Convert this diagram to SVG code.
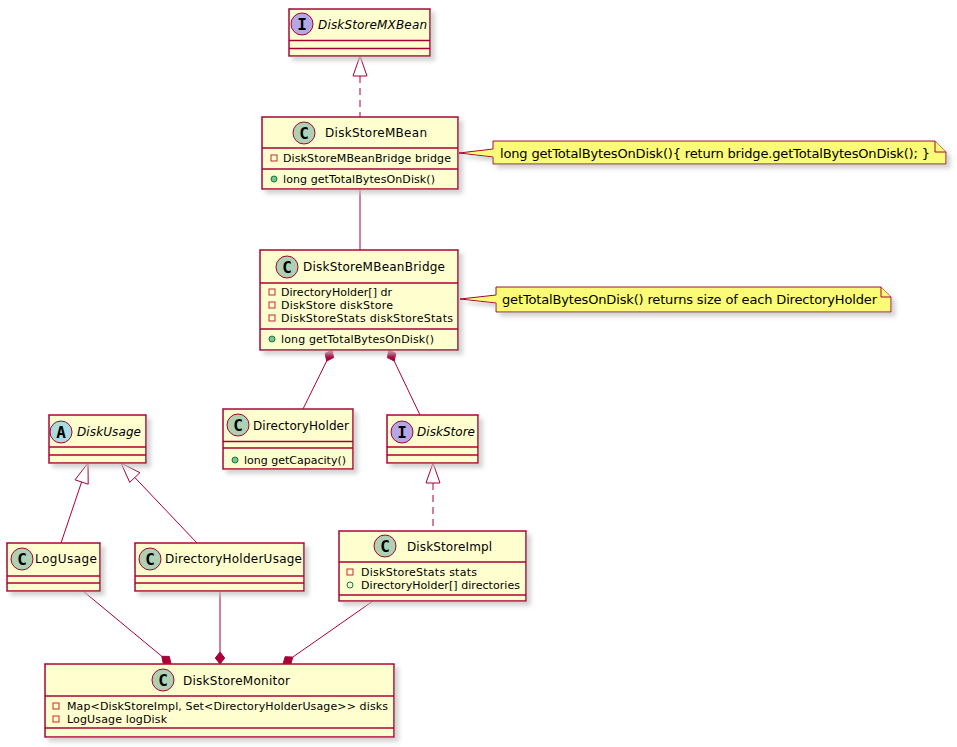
<svg xmlns="http://www.w3.org/2000/svg" width="957" height="747" viewBox="0 0 957 747">
<defs>
<filter id="sh" x="-10%" y="-20%" width="130%" height="160%">
<feGaussianBlur in="SourceAlpha" stdDeviation="2" result="b"/>
<feOffset in="b" dx="4" dy="4" result="o"/>
<feColorMatrix in="o" type="matrix" values="0 0 0 0 0.55  0 0 0 0 0.55  0 0 0 0 0.55  0 0 0 0.75 0" result="c"/>
<feMerge><feMergeNode in="c"/><feMergeNode in="SourceGraphic"/></feMerge>
</filter>
<style>
.box{fill:#FEFECE;stroke:#A80036;stroke-width:1.5;filter:url(#sh)}
.sep{stroke:#A80036;stroke-width:1.5}
.name{font-family:"DejaVu Sans",sans-serif;font-size:12px;fill:#000}
.it{font-style:italic}
.mem{font-family:"DejaVu Sans",sans-serif;font-size:11px;fill:#000}
.letter{font-family:"DejaVu Sans Mono","DejaVu Sans",monospace;font-size:16px;font-weight:bold;fill:#000;text-anchor:middle}
.cc{fill:#ADD1B2;stroke:#A80036;stroke-width:1}
.ci{fill:#B4A7E5;stroke:#A80036;stroke-width:1}
.ca{fill:#A9DCDF;stroke:#A80036;stroke-width:1}
.priv{fill:none;stroke:#C82930;stroke-width:1}
.pubm{fill:#84BE84;stroke:#038048;stroke-width:1}
.pubf{fill:none;stroke:#038048;stroke-width:1}
.note{fill:#FBFB77;stroke:#A80036;stroke-width:1;filter:url(#sh)}
.fold{fill:#FBFB77;stroke:#A80036;stroke-width:1}
.ntext{font-family:"DejaVu Sans",sans-serif;font-size:13px;fill:#000}
.ln{fill:none;stroke:#A80036;stroke-width:1}
.dash{stroke-dasharray:7,5}
.tri{fill:none;stroke:#A80036;stroke-width:1}
.dia{fill:#A80036;stroke:#A80036;stroke-width:1}
</style>
</defs>
<rect width="957" height="747" fill="#FFFFFF"/>

<g id="connectors">
<line class="ln dash" x1="360" y1="76" x2="360" y2="117"/>
<polygon class="tri" points="360,56 367,76 353,76"/>
<line class="ln" x1="360" y1="189" x2="360" y2="250"/>
<polygon class="dia" points="332,350 333.6,357.6 326.7,361 325.1,353.4"/>
<line class="ln" x1="326.7" y1="361" x2="303" y2="409"/>
<polygon class="dia" points="389,350 395.8,353.4 394.2,361 387.3,357.6"/>
<line class="ln" x1="394.2" y1="361" x2="420" y2="415"/>
<line class="ln dash" x1="433" y1="483" x2="433" y2="531"/>
<polygon class="tri" points="433,463 440,483 426,483"/>
<line class="ln" x1="81.6" y1="482" x2="61" y2="543"/>
<polygon class="tri" points="88,463 88.2,484.2 75,479.8"/>
<line class="ln" x1="134.8" y1="477.5" x2="197" y2="543"/>
<polygon class="tri" points="121,463 129.7,482.3 139.9,472.7"/>
<line class="ln" x1="83" y1="591" x2="161.8" y2="656.3"/>
<polygon class="dia" points="171,664 169.3,656.4 161.8,656.3 163.3,663.8"/>
<line class="ln" x1="220" y1="591" x2="220" y2="652"/>
<polygon class="dia" points="220,664 224.7,658 220,652 215.3,658"/>
<line class="ln" x1="373" y1="601" x2="292.8" y2="657.1"/>
<polygon class="dia" points="283,664 290.7,664.4 292.8,657.1 285.2,656.7"/>
</g>

<g id="DiskStoreMXBean">
<rect class="box" x="289" y="9" width="141" height="47"/>
<circle class="ci" cx="302" cy="24" r="11"/>
<text class="letter" x="302" y="29.5">I</text>
<text class="name it" x="318" y="29" textLength="109" lengthAdjust="spacing">DiskStoreMXBean</text>
<line class="sep" x1="289" y1="40.5" x2="430" y2="40.5"/>
<line class="sep" x1="289" y1="48.5" x2="430" y2="48.5"/>
</g>

<g id="DiskStoreMBean">
<rect class="box" x="262" y="117" width="196" height="72"/>
<circle class="cc" cx="304" cy="133" r="11"/>
<text class="letter" x="304" y="138.5">C</text>
<text class="name" x="325" y="137" textLength="102" lengthAdjust="spacing">DiskStoreMBean</text>
<line class="sep" x1="262" y1="148" x2="458" y2="148"/>
<rect class="priv" x="271" y="155" width="6" height="6"/>
<text class="mem" x="283" y="162" textLength="168" lengthAdjust="spacing">DiskStoreMBeanBridge bridge</text>
<line class="sep" x1="262" y1="169" x2="458" y2="169"/>
<circle class="pubm" cx="274" cy="179" r="3"/>
<text class="mem" x="283" y="183" textLength="152" lengthAdjust="spacing">long getTotalBytesOnDisk()</text>
</g>

<g id="note1">
<path class="note" d="M493,141 L935,141 L946,152 L946,164 L493,164 L493,157 L459,153 L493,149 Z"/>
<path class="fold" d="M935,141 L935,152 L946,152"/>
<text class="ntext" x="500" y="158" textLength="430" lengthAdjust="spacing">long getTotalBytesOnDisk(){ return bridge.getTotalBytesOnDisk(); }</text>
</g>

<g id="DiskStoreMBeanBridge">
<rect class="box" x="260" y="250" width="198" height="100"/>
<circle class="cc" cx="287" cy="267" r="11"/>
<text class="letter" x="287" y="272.5">C</text>
<text class="name" x="303" y="271" textLength="142" lengthAdjust="spacing">DiskStoreMBeanBridge</text>
<line class="sep" x1="260" y1="283" x2="458" y2="283"/>
<rect class="priv" x="269" y="289" width="6" height="6"/>
<text class="mem" x="281" y="296" textLength="111" lengthAdjust="spacing">DirectoryHolder[] dr</text>
<rect class="priv" x="269" y="302" width="6" height="6"/>
<text class="mem" x="281" y="309" textLength="112" lengthAdjust="spacing">DiskStore diskStore</text>
<rect class="priv" x="269" y="315" width="6" height="6"/>
<text class="mem" x="281" y="322" textLength="172" lengthAdjust="spacing">DiskStoreStats diskStoreStats</text>
<line class="sep" x1="260" y1="329" x2="458" y2="329"/>
<circle class="pubm" cx="272" cy="339" r="3"/>
<text class="mem" x="281" y="343" textLength="153" lengthAdjust="spacing">long getTotalBytesOnDisk()</text>
</g>

<g id="note2">
<path class="note" d="M496,287 L881,287 L891,297 L891,312 L496,312 L496,303 L460,299 L496,295 Z"/>
<path class="fold" d="M881,287 L881,297 L891,297"/>
<text class="ntext" x="502" y="304" textLength="375" lengthAdjust="spacing">getTotalBytesOnDisk() returns size of each DirectoryHolder</text>
</g>

<g id="DiskUsage">
<rect class="box" x="49" y="415" width="97" height="48"/>
<circle class="ca" cx="61" cy="432" r="11"/>
<text class="letter" x="61" y="437.5">A</text>
<text class="name it" x="77" y="436" textLength="64" lengthAdjust="spacing">DiskUsage</text>
<line class="sep" x1="49" y1="447" x2="146" y2="447"/>
<line class="sep" x1="49" y1="455" x2="146" y2="455"/>
</g>

<g id="DirectoryHolder">
<rect class="box" x="223" y="409" width="130" height="60"/>
<circle class="cc" cx="238" cy="425" r="11"/>
<text class="letter" x="238" y="430.5">C</text>
<text class="name" x="253" y="430" textLength="96" lengthAdjust="spacing">DirectoryHolder</text>
<line class="sep" x1="223" y1="441.5" x2="353" y2="441.5"/>
<line class="sep" x1="223" y1="448" x2="353" y2="448"/>
<circle class="pubm" cx="235" cy="460" r="3"/>
<text class="mem" x="244" y="464" textLength="102" lengthAdjust="spacing">long getCapacity()</text>
</g>

<g id="DiskStore">
<rect class="box" x="387" y="415" width="91" height="48"/>
<circle class="ci" cx="402" cy="432" r="11"/>
<text class="letter" x="402" y="437.5">I</text>
<text class="name it" x="417" y="436" textLength="58" lengthAdjust="spacing">DiskStore</text>
<line class="sep" x1="387" y1="447" x2="478" y2="447"/>
<line class="sep" x1="387" y1="455" x2="478" y2="455"/>
</g>

<g id="LogUsage">
<rect class="box" x="7" y="543" width="93" height="48"/>
<circle class="cc" cx="22" cy="559" r="11"/>
<text class="letter" x="22" y="564.5">C</text>
<text class="name" x="35" y="563" textLength="62" lengthAdjust="spacing">LogUsage</text>
<line class="sep" x1="7" y1="576" x2="100" y2="576"/>
<line class="sep" x1="7" y1="583" x2="100" y2="583"/>
</g>

<g id="DirectoryHolderUsage">
<rect class="box" x="135" y="543" width="169" height="48"/>
<circle class="cc" cx="150" cy="559" r="11"/>
<text class="letter" x="150" y="564.5">C</text>
<text class="name" x="165" y="563" textLength="137" lengthAdjust="spacing">DirectoryHolderUsage</text>
<line class="sep" x1="135" y1="576" x2="304" y2="576"/>
<line class="sep" x1="135" y1="583" x2="304" y2="583"/>
</g>

<g id="DiskStoreImpl">
<rect class="box" x="339" y="531" width="187" height="70"/>
<circle class="cc" cx="385" cy="546" r="11"/>
<text class="letter" x="385" y="551.5">C</text>
<text class="name" x="407" y="551" textLength="85" lengthAdjust="spacing">DiskStoreImpl</text>
<line class="sep" x1="339" y1="562" x2="526" y2="562"/>
<rect class="priv" x="347" y="569" width="6" height="6"/>
<text class="mem" x="361" y="576" textLength="116" lengthAdjust="spacing">DiskStoreStats stats</text>
<circle class="pubf" cx="350" cy="585" r="3"/>
<text class="mem" x="361" y="589" textLength="159" lengthAdjust="spacing">DirectoryHolder[] directories</text>
<line class="sep" x1="339" y1="595" x2="526" y2="595"/>
</g>

<g id="DiskStoreMonitor">
<rect class="box" x="45" y="664" width="349" height="73"/>
<circle class="cc" cx="163" cy="680" r="11"/>
<text class="letter" x="163" y="685.5">C</text>
<text class="name" x="183" y="685" textLength="107" lengthAdjust="spacing">DiskStoreMonitor</text>
<line class="sep" x1="45" y1="696" x2="394" y2="696"/>
<rect class="priv" x="53" y="703" width="6" height="6"/>
<text class="mem" x="67" y="710" textLength="321" lengthAdjust="spacing">Map&lt;DiskStoreImpl, Set&lt;DirectoryHolderUsage&gt;&gt; disks</text>
<rect class="priv" x="53" y="716" width="6" height="6"/>
<text class="mem" x="67" y="723" textLength="100" lengthAdjust="spacing">LogUsage logDisk</text>
<line class="sep" x1="45" y1="728" x2="394" y2="728"/>
</g>
</svg>
